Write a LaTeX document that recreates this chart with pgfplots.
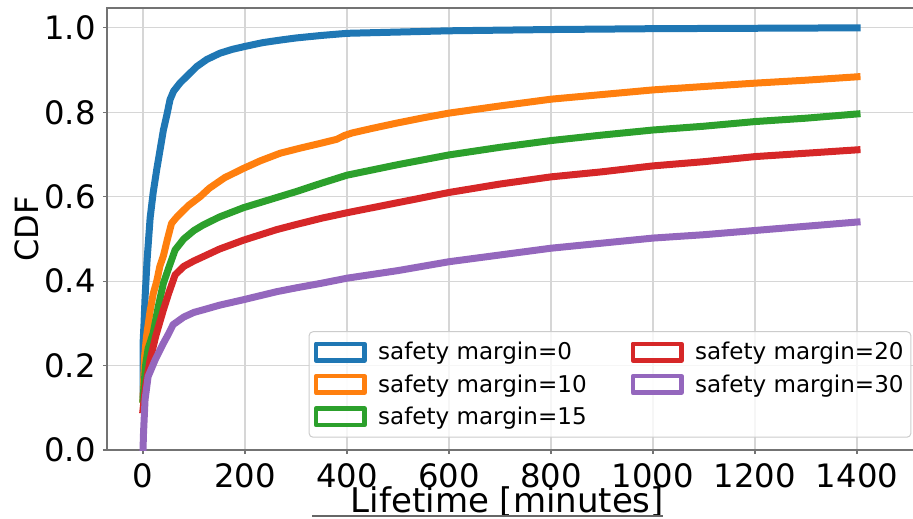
\documentclass[border=0pt]{standalone}
\usepackage{fontspec}
\setmainfont{DejaVu Sans}
\usepackage{pgfplots}
\pgfplotsset{compat=1.18}
\definecolor{c0}{HTML}{1F77B4}
\definecolor{c1}{HTML}{FF7F0E}
\definecolor{c2}{HTML}{2CA02C}
\definecolor{c3}{HTML}{D62728}
\definecolor{c4}{HTML}{9467BD}
\begin{document}
\begin{tikzpicture}
\begin{axis}[
  scale only axis, width=612pt, height=331.5pt,
  xmin=-70.6, xmax=1529.4, ymin=0, ymax=1.047,
  xtick={0,200,400,600,800,1000,1200,1400},
  ytick={0,0.2,0.4,0.6,0.8,1.0},
  grid=major, grid style={color=black!16, line width=0.9pt},
  axis line style={black!55, line width=0.8pt},
  tick style={black!55, line width=0.8pt}, tick align=outside, major tick length=3pt,
  xtick pos=left, ytick pos=left,
  /pgf/number format/assume math mode=true,
  /pgf/number format/set thousands separator={},
  ticklabel style={font=\fontsize{24.2}{29}\selectfont, inner sep=0pt},
  xticklabel style={yshift=-7pt},
  yticklabel style={/pgf/number format/fixed, /pgf/number format/fixed zerofill, /pgf/number format/precision=1, xshift=-5.25pt},
  every axis x label/.style={at={(rel axis cs:0.4908,0)}, anchor=base, yshift=-46.5pt, font=\fontsize{25.5}{30}\selectfont},
  every axis y label/.style={at={(rel axis cs:0,0.5)}, xshift=-60.4pt, rotate=90, anchor=center, font=\fontsize{24}{29}\selectfont},
  xlabel={Lifetime [minutes]}, ylabel={CDF},
  legend columns=2, legend cell align=left,
  legend image code/.code={\draw[#1, sharp corners, line width=3.4pt, fill=white] (0pt,-6.2pt) rectangle (36.4pt,6.2pt);},
  legend style={at={(axis cs:1506.7,0.0291)}, anchor=south east, draw=black!20, line width=0.75pt, rounded corners=3pt, fill=white, fill opacity=0.8, text opacity=1, draw opacity=1, font=\fontsize{17.3}{21}\selectfont, inner xsep=3.5pt, inner ysep=3.2pt, column sep=6.5pt, /tikz/every even column/.append style={column sep=31pt}, nodes={inner xsep=2pt, inner ysep=4.8pt}},
  every axis plot/.append style={line width=5.25pt, line join=round, line cap=rect},
]
\addplot[c0, forget plot] coordinates {(0,0.13)(0,0.25)(2,0.30)(4,0.36)(8,0.45)(14,0.55)(20,0.61)(27,0.665)(34,0.715)(40,0.758)(47,0.795)(53,0.83)(60,0.85)(73,0.87)(90,0.89)(105,0.908)(125,0.925)(151,0.94)(175,0.949)(200,0.956)(235,0.965)(269,0.971)(300,0.976)(350,0.982)(400,0.987)(500,0.99)(600,0.993)(800,0.996)(1000,0.998)(1200,0.999)(1400,1.0)};
\addplot[c1, forget plot] coordinates {(0,0.12)(3,0.22)(7,0.27)(14,0.33)(20,0.37)(27,0.40)(33,0.435)(40,0.46)(48,0.50)(56,0.537)(65,0.55)(73,0.56)(90,0.58)(112,0.6)(130,0.62)(160,0.645)(197,0.667)(230,0.685)(269,0.703)(308,0.715)(350,0.727)(380,0.736)(395,0.745)(410,0.751)(450,0.762)(500,0.775)(550,0.787)(600,0.798)(700,0.815)(800,0.831)(900,0.842)(1000,0.853)(1100,0.861)(1200,0.869)(1300,0.876)(1400,0.884)};
\addplot[c2, forget plot] coordinates {(0,0.12)(5,0.2)(10,0.24)(20,0.277)(30,0.34)(40,0.395)(50,0.43)(63,0.474)(80,0.5)(100,0.52)(118,0.533)(150,0.552)(197,0.574)(262,0.598)(300,0.612)(350,0.632)(400,0.651)(500,0.676)(600,0.699)(700,0.717)(800,0.733)(900,0.746)(1000,0.758)(1100,0.767)(1200,0.778)(1300,0.786)(1400,0.796)};
\addplot[c3, forget plot] coordinates {(0,0.095)(5,0.15)(14,0.214)(25,0.27)(40,0.332)(50,0.37)(63,0.415)(80,0.435)(100,0.448)(118,0.458)(150,0.476)(197,0.497)(262,0.522)(300,0.534)(350,0.549)(400,0.562)(500,0.586)(600,0.61)(700,0.63)(800,0.647)(900,0.659)(1000,0.673)(1100,0.683)(1200,0.695)(1300,0.703)(1400,0.711)};
\addplot[c4, forget plot] coordinates {(0,0)(1,0.04)(4,0.119)(10,0.174)(24,0.214)(40,0.253)(50,0.275)(59,0.297)(80,0.315)(100,0.326)(118,0.332)(150,0.343)(197,0.356)(262,0.375)(300,0.384)(350,0.395)(400,0.407)(500,0.425)(600,0.446)(700,0.462)(800,0.478)(900,0.49)(1000,0.502)(1100,0.51)(1200,0.52)(1300,0.53)(1400,0.54)};
\addlegendimage{c0}\addlegendentry{safety margin=0}
\addlegendimage{c3}\addlegendentry{safety margin=20}
\addlegendimage{c1}\addlegendentry{safety margin=10}
\addlegendimage{c4}\addlegendentry{safety margin=30}
\addlegendimage{c2}\addlegendentry{safety margin=15}
\coordinate (SW) at (rel axis cs:0,0);
\coordinate (NE) at (rel axis cs:1,1);
\end{axis}
\draw[black!60, line width=1pt] ([xshift=153.75pt,yshift=-49.5pt]SW) -- ([xshift=417pt,yshift=-49.5pt]SW);
\pgfresetboundingbox
\path[use as bounding box] ([xshift=-80.25pt,yshift=-51pt]SW) rectangle ([xshift=-7.5pt,yshift=6pt]NE);
\end{tikzpicture}
\end{document}
